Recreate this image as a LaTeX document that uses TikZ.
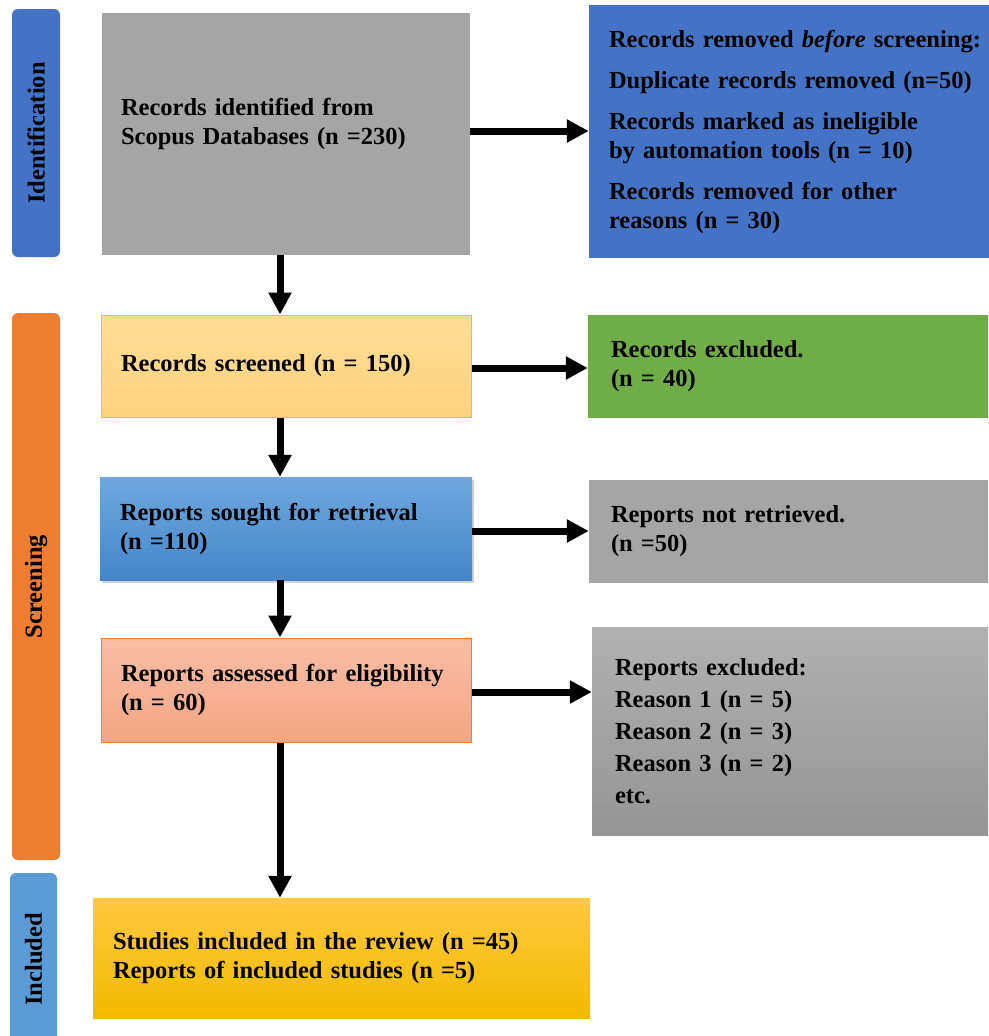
\documentclass[tikz,border=0pt]{standalone}
\usepackage{fontspec}
\setmainfont{Liberation Serif}
\usepackage{tikz}
\usetikzlibrary{arrows.meta, shadows}

\definecolor{idblue}{HTML}{4472C4}
\definecolor{scrorange}{HTML}{ED7D31}
\definecolor{boxgrey}{HTML}{A5A5A5}
\definecolor{exgreen}{HTML}{70AD47}
\definecolor{gold}{HTML}{FFC000}
\definecolor{inclblue}{HTML}{5B9BD5}
\definecolor{scrtop}{HTML}{FFDC96}
\definecolor{scrbot}{HTML}{FFD37F}
\definecolor{sgttop}{HTML}{70A7DE}
\definecolor{sgtbot}{HTML}{4486C9}
\definecolor{asdtop}{HTML}{F8BEA6}
\definecolor{asdbot}{HTML}{F4A582}
\definecolor{stutop}{HTML}{FFC940}
\definecolor{stubot}{HTML}{F2BA00}
\definecolor{rextop}{HTML}{B1B1B1}
\definecolor{rexbot}{HTML}{959595}

\begin{document}
\begin{tikzpicture}[x=1pt, y=-1pt,
    every node/.style={font=\fontsize{24.5}{29}\selectfont\bfseries},
    phase/.style={rounded corners=6pt, rotate=90, inner sep=0pt},
    stage/.style={align=left, inner ysep=0pt},
    flow/.style={line width=7pt, -{Triangle[length=22pt, width=22pt]}}]
        \useasboundingbox (0,0) rectangle (988,1036);

        % phase bars
        \node (idf) [phase, fill=idblue, minimum width=248pt, minimum height=48pt] at (36, 133) {Identification};
        \node (scn) [phase, fill=scrorange, minimum width=547pt, minimum height=48pt] at (36, 586.5) {Screening};
        \node (inc) [phase, fill=inclblue, minimum width=173pt, minimum height=47pt] at (33.5, 959.5) {Included};

        % main column
        \node (rec) [stage, fill=boxgrey, minimum height=242pt, inner xsep=19pt, text width=330pt, text depth=55pt] at (286, 134)
            {Records identified from\\Scopus Databases (n =230)};
        \node (scr) [stage, top color=scrtop, bottom color=scrbot, draw=gold, line width=1pt, minimum height=102pt, inner xsep=20pt, text width=330pt] at (286, 366)
            {Records screened (n = 150)};
        \node (sgt) [stage, top color=sgttop, bottom color=sgtbot, drop shadow={opacity=0.35, shadow xshift=2pt, shadow yshift=-3pt}, minimum height=103pt, inner xsep=20pt, text width=332pt] at (286, 528.5)
            {Reports sought for retrieval\\(n =110)};
        \node (asd) [stage, top color=asdtop, bottom color=asdbot, draw=scrorange, line width=1pt, minimum height=104pt, inner xsep=20pt, text width=330pt] at (286, 690)
            {Reports assessed for eligibility\\(n = 60)};
        \node (stu) [stage, top color=stutop, bottom color=stubot, minimum height=120pt, inner xsep=20pt, text width=457pt] at (341.5, 958)
            {Studies included in the review (n =45)\\Reports of included studies (n =5)};

        % side column
        \node (rem) [stage, fill=idblue, minimum height=253pt, inner xsep=20pt, text width=380pt] at (799, 131.5)
            {Records removed \textit{before} screening:\\[12pt]Duplicate records removed (n=50)\\[12pt]Records marked as ineligible\\by automation tools (n = 10)\\[12pt]Records removed for other\\reasons (n = 30)};
        \node (exc) [stage, fill=exgreen, minimum height=103pt, inner xsep=23pt, text width=354pt] at (788, 366.5)
            {Records excluded.\\(n = 40)};
        \node (nrt) [stage, fill=boxgrey, minimum height=103pt, inner xsep=22pt, text width=355pt] at (788.5, 531.5)
            {Reports not retrieved.\\(n =50)};
        \node (rex) [stage, top color=rextop, bottom color=rexbot, minimum height=208pt, inner xsep=23pt, text width=350pt] at (790, 731)
            {Reports excluded:\\[3pt]Reason 1 (n = 5)\\[3pt]Reason 2 (n = 3)\\[3pt]Reason 3 (n = 2)\\[3pt]etc.};

        % arrows
        \coordinate (ax) at (280, 0);
        \draw [flow] (rec.south -| ax) -- (scr.north -| ax);
        \draw [flow] (scr.south -| ax) -- (sgt.north -| ax);
        \draw [flow] (sgt.south -| ax) -- (asd.north -| ax);
        \draw [flow] (asd.south -| ax) -- (stu.north -| ax);
        \draw [flow] ([yshift=3pt]rec.east) -- ([yshift=3pt]rec.east -| rem.west);
        \draw [flow] ([yshift=-2pt]scr.east) -- ([yshift=-2pt]scr.east -| exc.west);
        \draw [flow] ([yshift=-2.5pt]sgt.east) -- ([yshift=-2.5pt]sgt.east -| nrt.west);
        \draw [flow] ([yshift=-2pt]asd.east) -- ([yshift=-2pt]asd.east -| rex.west);
      \end{tikzpicture}
\end{document}
